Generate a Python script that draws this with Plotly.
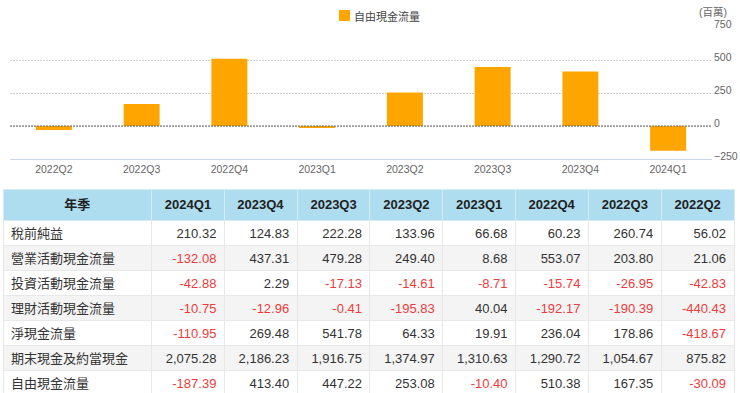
import plotly.graph_objects as go

# ---- data ----
quarters = ["2024Q1", "2023Q4", "2023Q3", "2023Q2", "2023Q1", "2022Q4", "2022Q3", "2022Q2"]
row_labels = ["稅前純益", "營業活動現金流量", "投資活動現金流量", "理財活動現金流量",
              "淨現金流量", "期末現金及約當現金", "自由現金流量"]
pretax_income = [210.32, 124.83, 222.28, 133.96, 66.68, 60.23, 260.74, 56.02]
operating_cf = [-132.08, 437.31, 479.28, 249.40, 8.68, 553.07, 203.80, 21.06]
investing_cf = [-42.88, 2.29, -17.13, -14.61, -8.71, -15.74, -26.95, -42.83]
financing_cf = [-10.75, -12.96, -0.41, -195.83, 40.04, -192.17, -190.39, -440.43]
net_cf = [-110.95, 269.48, 541.78, 64.33, 19.91, 236.04, 178.86, -418.67]
ending_cash = [2075.28, 2186.23, 1916.75, 1374.97, 1310.63, 1290.72, 1054.67, 875.82]
free_cf = [-187.39, 413.40, 447.22, 253.08, -10.40, 510.38, 167.35, -30.09]
y_ticks = [-250, 0, 250, 500, 750]
series_name = "自由現金流量"
unit_label = "(百萬)"
header_label = "年季"

rows = [pretax_income, operating_cf, investing_cf, financing_cf, net_cf, ending_cash, free_cf]

W, H = 740, 393
def px_x(p): return p / W
def px_y(p): return 1 - p / H

FONT = "Liberation Sans, Arial, Noto Sans CJK TC"
BAR = "#FFA500"

chart_q = quarters[::-1]
chart_v = free_cf[::-1]

fig = go.Figure()
fig.add_trace(go.Bar(
    x=chart_q, y=chart_v, name=series_name,
    marker=dict(color=BAR, line=dict(width=0)),
    width=0.41, xaxis="x", yaxis="y", showlegend=False,
))

# table
RED = "#EE3B3B"
TXT = "#333333"
col_values = [row_labels]
col_colors = [[TXT] * len(row_labels)]
for j in range(len(quarters)):
    vals = [r[j] for r in rows]
    col_values.append([f"{v:,.2f}" for v in vals])
    col_colors.append([RED if v < 0 else TXT for v in vals])

row_fill = ["#FFFFFF" if i % 2 == 0 else "#F4F4F4" for i in range(len(row_labels))]

fig.add_trace(go.Table(
    domain=dict(x=[px_x(3), px_x(734)], y=[0, px_y(189)]),
    columnwidth=[150] + [73.5] * len(quarters),
    header=dict(
        values=[f"<b>{header_label}</b>"] + [f"<b>{q}</b>" for q in quarters],
        fill_color="#ADDDEF",
        line=dict(color="#D6ECF5", width=1),
        align="center",
        height=26,
        font=dict(family=FONT, size=13, color="#222222"),
    ),
    cells=dict(
        values=col_values,
        fill_color=[row_fill] * (len(quarters) + 1),
        line=dict(color="#E8E8E8", width=1),
        align=["left"] + ["right"] * len(quarters),
        height=25,
        font=dict(family=FONT, size=13, color=col_colors),
    ),
))

# zero line (dashed, darker)
fig.add_shape(type="line", xref="paper", yref="y",
              x0=px_x(10), x1=px_x(712), y0=0, y1=0,
              line=dict(color="#666666", width=1, dash="2px,1px"))

# legend (custom)
fig.add_shape(type="rect", xref="paper", yref="paper",
              x0=px_x(339), x1=px_x(350), y0=px_y(21), y1=px_y(10),
              line=dict(width=0), fillcolor=BAR)
fig.add_annotation(text=series_name, xref="paper", yref="paper",
                   x=px_x(352), y=px_y(16), xanchor="left", yanchor="middle",
                   showarrow=False, font=dict(family=FONT, size=11, color="#444444"))

fig.add_annotation(text=unit_label, xref="paper", yref="paper",
                   x=px_x(729), y=px_y(12), xanchor="right", yanchor="middle",
                   showarrow=False, font=dict(family=FONT, size=10.5, color="#666666"))

fig.update_layout(
    width=W, height=H,
    margin=dict(l=0, r=0, t=0, b=0, autoexpand=False),
    paper_bgcolor="white", plot_bgcolor="white",
    font=dict(family=FONT, color="#666666"),
    showlegend=False,
    xaxis=dict(domain=[px_x(10), px_x(712)], anchor="y", automargin=False,
               categoryorder="array", categoryarray=chart_q,
               showline=True, linecolor="#CCD6EB", linewidth=1,
               ticks="", showgrid=False, zeroline=False,
               tickfont=dict(size=10.5, color="#666666"), fixedrange=True),
    yaxis=dict(domain=[px_y(159), px_y(27)], anchor="x", side="right", automargin=False,
               range=[-250, 750], tickvals=y_ticks,
               showgrid=True, gridcolor="#CFCFCF", griddash="2px,1px", gridwidth=1,
               zeroline=False, showline=False, ticks="",
               ticklabelshift=-3, ticklabelstandoff=1,
               tickfont=dict(size=10.5, color="#666666"), fixedrange=True),
)

fig.write_html("out.html", config={"displayModeBar": False},
               post_script="document.body.style.margin='0';document.body.style.overflow='hidden';")
